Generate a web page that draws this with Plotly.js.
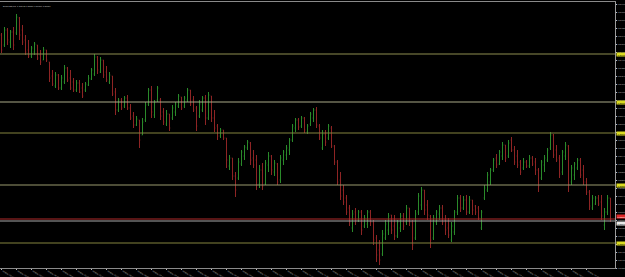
<!DOCTYPE html>
<html><head><meta charset="utf-8">
<script src="https://cdn.plot.ly/plotly-3.0.1.min.js"></script>
<style>html,body{margin:0;padding:0;background:#000;overflow:hidden}#chart{width:625px;height:277px;}</style>
</head><body><div id="chart"></div>
<script>
const symbolTitle = "EURUSD,M5  1.27842 1.27856 1.27780 1.27810";

const openP = [
1.2965,1.2955,1.2970,1.2958,1.2968,1.2967,1.2982,1.2970,1.2960,1.2950,
1.2944,1.2948,1.2955,1.2945,1.2940,1.2950,1.2938,1.2924,1.2914,1.2925,
1.2912,1.2918,1.2932,1.2922,1.2918,1.2910,1.2917,1.2912,1.2910,1.2915,
1.2921,1.2926,1.2943,1.2928,1.2940,1.2928,1.2918,1.2924,1.2908,1.2890,
1.2900,1.2894,1.2902,1.2892,1.2884,1.2875,1.2880,1.2865,1.2880,1.2896,
1.2910,1.2885,1.2900,1.2900,1.2888,1.2876,1.2886,1.2882,1.2888,1.2894,
1.2903,1.2894,1.2900,1.2910,1.2900,1.2892,1.2884,1.2890,1.2902,1.2882,
1.2904,1.2882,1.2874,1.2864,1.2870,1.2862,1.2834,1.2842,1.2824,1.2822,
1.2836,1.2844,1.2852,1.2857,1.2842,1.2840,1.2816,1.2830,1.2816,1.2835,
1.2844,1.2828,1.2836,1.2820,1.2840,1.2845,1.2850,1.2860,1.2872,1.2880,
1.2874,1.2882,1.2868,1.2876,1.2882,1.2890,1.2874,1.2852,1.2866,1.2862,
1.2872,1.2854,1.2838,1.2820,1.2810,1.2802,1.2792,1.2772,1.2788,1.2780,
1.2788,1.2774,1.2776,1.2788,1.2778,1.2762,1.2750,1.2746,1.2762,1.2770,
1.2785,1.2774,1.2764,1.2772,1.2784,1.2778,1.2792,1.2778,1.2762,1.2788,
1.2795,1.2810,1.2795,1.2784,1.2762,1.2778,1.2786,1.2792,1.2780,1.2772,
1.2760,1.2768,1.2788,1.2802,1.2792,1.2800,1.2788,1.2800,1.2794,1.2792,
1.2772,1.2802,1.2810,1.2818,1.2830,1.2842,1.2836,1.2844,1.2855,1.2844,
1.2860,1.2850,1.2844,1.2838,1.2832,1.2838,1.2834,1.2842,1.2838,1.2830,
1.2822,1.2835,1.2840,1.2852,1.2865,1.2850,1.2842,1.2828,1.2844,1.2854,
1.2818,1.2825,1.2832,1.2840,1.2830,1.2818,1.2808,1.2792,1.2796,1.2802,
1.2798,1.2775,1.2788,1.2802];

const highP = [
1.2967,1.2973,1.2972,1.2970,1.2973,1.2986,1.2983,1.2975,1.2965,1.2960,
1.2954,1.2958,1.2955,1.2950,1.2953,1.2950,1.2938,1.2930,1.2928,1.2926,
1.2925,1.2935,1.2933,1.2930,1.2922,1.2920,1.2920,1.2917,1.2918,1.2925,
1.2932,1.2946,1.2944,1.2943,1.2940,1.2934,1.2928,1.2924,1.2912,1.2902,
1.2902,1.2904,1.2905,1.2896,1.2888,1.2884,1.2880,1.2882,1.2898,1.2912,
1.2914,1.2900,1.2914,1.2902,1.2892,1.2890,1.2886,1.2895,1.2898,1.2906,
1.2903,1.2904,1.2912,1.2910,1.2904,1.2894,1.2900,1.2904,1.2905,1.2908,
1.2904,1.2890,1.2876,1.2872,1.2870,1.2862,1.2845,1.2842,1.2828,1.2842,
1.2850,1.2855,1.2860,1.2858,1.2850,1.2845,1.2835,1.2837,1.2840,1.2848,
1.2845,1.2840,1.2837,1.2845,1.2850,1.2855,1.2862,1.2876,1.2882,1.2882,
1.2884,1.2883,1.2876,1.2888,1.2892,1.2893,1.2876,1.2870,1.2870,1.2876,
1.2874,1.2855,1.2840,1.2828,1.2815,1.2805,1.2795,1.2790,1.2792,1.2790,
1.2790,1.2785,1.2790,1.2790,1.2780,1.2765,1.2760,1.2770,1.2780,1.2787,
1.2785,1.2785,1.2780,1.2787,1.2787,1.2795,1.2792,1.2780,1.2790,1.2807,
1.2813,1.2810,1.2800,1.2785,1.2785,1.2790,1.2795,1.2795,1.2785,1.2782,
1.2778,1.2790,1.2805,1.2805,1.2804,1.2805,1.2804,1.2800,1.2795,1.2794,
1.2790,1.2815,1.2828,1.2832,1.2842,1.2846,1.2850,1.2858,1.2855,1.2860,
1.2863,1.2854,1.2850,1.2840,1.2842,1.2840,1.2845,1.2844,1.2842,1.2832,
1.2840,1.2845,1.2852,1.2868,1.2866,1.2855,1.2845,1.2850,1.2858,1.2855,
1.2835,1.2838,1.2842,1.2842,1.2835,1.2822,1.2810,1.2805,1.2804,1.2805,
1.2805,1.2792,1.2805,1.2802];

const lowP = [
1.2947,1.2953,1.2955,1.2952,1.2950,1.2965,1.2960,1.2955,1.2945,1.2942,
1.2942,1.2945,1.2940,1.2935,1.2940,1.2938,1.2918,1.2914,1.2912,1.2910,
1.2910,1.2916,1.2918,1.2910,1.2908,1.2908,1.2907,1.2902,1.2908,1.2914,
1.2920,1.2924,1.2926,1.2927,1.2922,1.2918,1.2916,1.2904,1.2885,1.2888,
1.2890,1.2892,1.2890,1.2880,1.2872,1.2874,1.2852,1.2865,1.2878,1.2894,
1.2882,1.2882,1.2898,1.2880,1.2875,1.2874,1.2869,1.2880,1.2884,1.2892,
1.2890,1.2892,1.2898,1.2894,1.2888,1.2869,1.2882,1.2888,1.2875,1.2880,
1.2878,1.2868,1.2860,1.2862,1.2860,1.2832,1.2830,1.2820,1.2803,1.2820,
1.2834,1.2840,1.2850,1.2835,1.2832,1.2810,1.2812,1.2810,1.2815,1.2828,
1.2825,1.2824,1.2815,1.2817,1.2835,1.2840,1.2845,1.2858,1.2868,1.2870,
1.2872,1.2867,1.2866,1.2874,1.2878,1.2872,1.2860,1.2850,1.2854,1.2860,
1.2852,1.2835,1.2815,1.2800,1.2795,1.2785,1.2774,1.2768,1.2775,1.2778,
1.2765,1.2772,1.2772,1.2774,1.2755,1.2738,1.2735,1.2744,1.2760,1.2765,
1.2766,1.2760,1.2762,1.2768,1.2770,1.2775,1.2774,1.2750,1.2760,1.2785,
1.2790,1.2785,1.2780,1.2752,1.2760,1.2775,1.2780,1.2775,1.2765,1.2762,
1.2758,1.2765,1.2785,1.2788,1.2790,1.2785,1.2786,1.2785,1.2785,1.2780,
1.2770,1.2800,1.2808,1.2815,1.2828,1.2832,1.2835,1.2840,1.2838,1.2842,
1.2848,1.2835,1.2832,1.2825,1.2830,1.2832,1.2832,1.2834,1.2825,1.2808,
1.2820,1.2828,1.2838,1.2850,1.2842,1.2838,1.2822,1.2825,1.2840,1.2808,
1.2815,1.2820,1.2830,1.2822,1.2815,1.2805,1.2790,1.2790,1.2795,1.2794,
1.2780,1.2770,1.2785,1.2778];

const closeP = [
1.2950,1.2970,1.2960,1.2968,1.2955,1.2983,1.2965,1.2958,1.2948,1.2944,
1.2952,1.2956,1.2942,1.2938,1.2950,1.2940,1.2922,1.2916,1.2925,1.2912,
1.2922,1.2932,1.2920,1.2912,1.2910,1.2917,1.2908,1.2904,1.2916,1.2922,
1.2930,1.2943,1.2930,1.2940,1.2925,1.2920,1.2925,1.2906,1.2890,1.2900,
1.2892,1.2902,1.2892,1.2882,1.2875,1.2881,1.2860,1.2878,1.2895,1.2910,
1.2888,1.2898,1.2912,1.2884,1.2878,1.2886,1.2872,1.2892,1.2896,1.2904,
1.2892,1.2902,1.2910,1.2896,1.2890,1.2874,1.2896,1.2902,1.2882,1.2905,
1.2882,1.2872,1.2864,1.2870,1.2862,1.2840,1.2842,1.2824,1.2810,1.2838,
1.2848,1.2853,1.2858,1.2840,1.2835,1.2815,1.2830,1.2814,1.2837,1.2844,
1.2830,1.2837,1.2818,1.2842,1.2848,1.2852,1.2860,1.2874,1.2880,1.2873,
1.2882,1.2870,1.2874,1.2886,1.2890,1.2875,1.2862,1.2866,1.2858,1.2874,
1.2854,1.2838,1.2818,1.2804,1.2798,1.2788,1.2778,1.2786,1.2780,1.2788,
1.2770,1.2782,1.2788,1.2778,1.2760,1.2745,1.2740,1.2766,1.2776,1.2784,
1.2770,1.2764,1.2778,1.2784,1.2774,1.2792,1.2778,1.2755,1.2786,1.2804,
1.2810,1.2790,1.2785,1.2760,1.2782,1.2788,1.2792,1.2778,1.2770,1.2765,
1.2774,1.2788,1.2802,1.2792,1.2800,1.2788,1.2800,1.2790,1.2788,1.2782,
1.2788,1.2812,1.2825,1.2830,1.2840,1.2835,1.2848,1.2855,1.2842,1.2857,
1.2850,1.2838,1.2835,1.2828,1.2838,1.2834,1.2842,1.2836,1.2830,1.2814,
1.2838,1.2842,1.2850,1.2865,1.2845,1.2840,1.2826,1.2848,1.2855,1.2815,
1.2832,1.2836,1.2840,1.2825,1.2818,1.2808,1.2794,1.2802,1.2802,1.2796,
1.2784,1.2788,1.2802,1.2781];

const timeLabels = [
"14 May 03:00","14 May 03:25","14 May 03:50","14 May 04:15","14 May 04:40","14 May 05:05","14 May 05:30",
"14 May 05:55","14 May 06:20","14 May 06:45","14 May 07:10","14 May 07:35","14 May 08:00","14 May 08:25",
"14 May 08:50","14 May 09:15","14 May 09:40","14 May 10:05","14 May 10:30","14 May 10:55","14 May 11:20",
"14 May 11:45","14 May 12:10","14 May 12:35","14 May 13:00","14 May 13:25","14 May 13:50","14 May 14:15",
"14 May 14:40","14 May 15:05","14 May 15:30","14 May 15:55","14 May 16:20","14 May 16:45","14 May 17:10",
"14 May 17:35","14 May 18:00","14 May 18:25","14 May 18:50","14 May 19:15"];

const levelPrices = [1.2946, 1.2898, 1.2867, 1.2815, 1.2757];
const levelColors = ['#8e8e50', '#aaaa88', '#84843f', '#9a9a6e', '#84843f'];
const bidPrice = 1.2781;
const lowerLinePrice = 1.2779;

const xIdx = openP.map((_, i) => i);
const labelStep = 5;
const tickVals = timeLabels.map((_, i) => i * labelStep);

const trace = {
  type: 'ohlc',
  x: xIdx, open: openP, high: highP, low: lowP, close: closeP,
  increasing: {line: {color: '#2a8a2a', width: 1}},
  decreasing: {line: {color: '#8e2424', width: 1}},
  tickwidth: 0.25,
  hoverinfo: 'skip'
};

const shapes = levelPrices.map((p, i) => ({
  type: 'line', xref: 'paper', x0: 0, x1: 1, yref: 'y', y0: p, y1: p,
  line: {color: levelColors[i], width: 1}
}));
shapes.push({type: 'line', xref: 'paper', x0: 0, x1: 1, yref: 'y', y0: bidPrice, y1: bidPrice, line: {color: '#b02a2a', width: 1}});
shapes.push({type: 'line', xref: 'paper', x0: 0, x1: 1, yref: 'y', y0: lowerLinePrice, y1: lowerLinePrice, line: {color: '#a8a8a8', width: 1}});

const lblFont = {family: 'Liberation Sans', size: 2.2};
const annotations = levelPrices.map(p => ({
  xref: 'paper', x: 1, xanchor: 'left', xshift: 1, yref: 'y', y: p, yanchor: 'middle',
  text: p.toFixed(5), showarrow: false, bgcolor: '#dada22', borderpad: 0.6,
  font: Object.assign({color: '#000'}, lblFont)
}));
annotations.push({xref: 'paper', x: 1, xanchor: 'left', xshift: 1, yref: 'y', y: bidPrice, yanchor: 'bottom',
  text: bidPrice.toFixed(5), showarrow: false, bgcolor: '#e02828', borderpad: 0.6,
  font: Object.assign({color: '#fff'}, lblFont)});
annotations.push({xref: 'paper', x: 1, xanchor: 'left', xshift: 1, yref: 'y', y: lowerLinePrice, yanchor: 'top',
  text: lowerLinePrice.toFixed(5), showarrow: false, bgcolor: '#e8e8e8', borderpad: 0.6,
  font: Object.assign({color: '#000'}, lblFont)});
annotations.push({xref: 'paper', x: 0, xanchor: 'left', xshift: 1, yref: 'paper', y: 1, yanchor: 'top', yshift: -1,
  text: symbolTitle, showarrow: false,
  font: Object.assign({color: '#c8c8c8'}, lblFont)});

const layout = {
  width: 625, height: 277,
  margin: {l: 0, r: 10, t: 2, b: 9, pad: 0},
  paper_bgcolor: '#000', plot_bgcolor: '#000',
  showlegend: false, hovermode: false, dragmode: false,
  xaxis: {
    range: [-0.5, openP.length + 0.5], rangeslider: {visible: false},
    tickmode: 'array', tickvals: tickVals, ticktext: timeLabels,
    ticks: 'outside', ticklen: 1, tickcolor: '#bbbbbb',
    ticklabelposition: 'outside right',
    tickfont: Object.assign({color: '#b8b8b8'}, lblFont),
    showgrid: false, zeroline: false, showline: true, linecolor: '#8a8a8a', linewidth: 1, mirror: true,
    automargin: false, fixedrange: true
  },
  yaxis: {
    side: 'right', range: [1.2732, 1.2998],
    tick0: 1.2996, dtick: 0.0008, tickformat: '.5f',
    ticks: 'outside', ticklen: 1, tickcolor: '#bbbbbb',
    tickfont: Object.assign({color: '#b8b8b8'}, lblFont),
    showgrid: false, zeroline: false, showline: true, linecolor: '#9a9a9a', linewidth: 1,
    automargin: false, fixedrange: true
  },
  shapes: shapes,
  annotations: annotations
};

Plotly.newPlot('chart', [trace], layout, {staticPlot: true, displayModeBar: false});
</script>
</body></html>
